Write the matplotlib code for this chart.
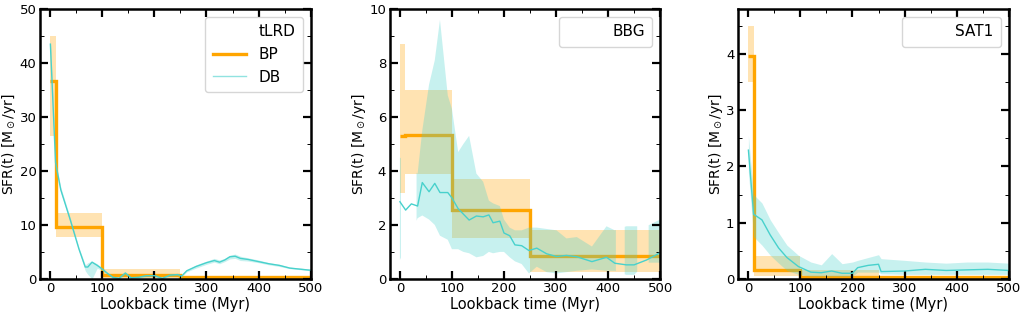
import numpy as np
import matplotlib.pyplot as plt
from matplotlib.lines import Line2D
from matplotlib.ticker import MultipleLocator

# age bins of the BP (bins) model, Myr
edges = [0, 10, 100, 250, 500]

# ---- tLRD
bp1 = [36.6, 9.6, 0.7, 0.3]
bp1_lo = [26.5, 7.7, 0.2, 0.0]
bp1_hi = [45.0, 12.2, 1.9, 0.5]
t1 = [0, 10, 20, 38, 55, 67, 72, 80, 90, 100, 110, 120, 132, 144, 155, 170, 185, 200, 215,
      230, 245, 252, 262, 280, 300, 315, 325, 335, 345, 355, 365, 380, 400, 420, 440, 460, 480, 500]
db1 = [43.5, 21.5, 16.5, 11.0, 5.5, 2.2, 2.2, 3.1, 2.5, 1.8, 1.0, 0.3, 0.1, 1.1, 0.2, 0.3, 0.6, 0.6, 0.1,
       0.7, 0.8, 0.5, 1.5, 2.3, 3.0, 3.4, 3.1, 3.5, 4.1, 4.2, 3.8, 3.6, 3.2, 2.8, 2.5, 2.0, 1.8, 1.6]
db1_lo = [42.5, 21.0, 16.0, 10.6, 5.2, 1.5, 0.8, 0.0, 2.0, 1.5, 0.8, 0.1, 0.0, 0.8, 0.0, 0.1, 0.4, 0.4, 0.0,
          0.5, 0.6, 0.3, 1.3, 2.0, 2.7, 3.1, 2.8, 3.2, 3.7, 3.8, 3.4, 3.3, 3.0, 2.6, 2.3, 1.9, 1.7, 1.5]
db1_hi = [44.5, 22.0, 17.0, 11.4, 5.8, 2.6, 3.0, 3.3, 2.8, 2.0, 1.2, 0.5, 0.3, 1.3, 0.4, 0.5, 0.8, 0.8, 0.3,
          0.9, 1.0, 0.7, 1.7, 2.6, 3.3, 3.8, 3.5, 3.8, 4.4, 4.6, 4.2, 3.9, 3.5, 3.0, 2.7, 2.2, 2.0, 1.8]

# ---- BBG
bp2 = [5.28, 5.32, 2.57, 0.85]
bp2_lo = [3.2, 3.9, 1.5, 0.25]
bp2_hi = [8.7, 7.0, 3.7, 1.8]
t2 = [0, 11, 22, 34, 43, 56, 67, 77, 92, 100, 112, 122, 133, 147, 160, 171, 179, 192, 200, 211, 221,
      234, 248, 263, 282, 301, 320, 340, 369, 397, 413, 435, 450, 474, 500]
db2 = [2.86, 2.55, 2.78, 2.7, 3.57, 3.23, 3.54, 3.2, 3.2, 3.0, 2.6, 2.4, 2.18, 2.33, 2.3, 2.37, 2.08, 2.14,
       1.7, 1.6, 1.26, 1.23, 1.05, 1.14, 0.93, 0.83, 0.87, 0.82, 0.64, 0.8, 0.58, 0.52, 0.52, 0.7, 0.97]
db2_lo = [0.7, np.nan, np.nan, 2.25, 2.35, 2.2, 2.0, 1.6, 1.45, 1.1, 1.1, 1.0, 0.95, 0.8, 0.85, 1.0, 0.95,
          1.0, 1.0, 0.8, 0.65, 0.55, 0.2, 0.45, 0.25, 0.2, 0.25, 0.3, 0.35, 0.3, 0.3, 0.15, 0.15, 0.6, 0.6]
db2_hi = [4.5, np.nan, np.nan, 3.9, 5.5, 7.2, 8.1, 9.6, 6.8, 6.3, 4.7, 5.0, 5.3, 3.9, 3.6, 2.9, 2.8, 2.7,
          2.2, 1.9, 1.8, 1.8, 1.9, 1.9, 1.85, 1.8, 1.5, 1.55, 1.2, 1.95, 1.8, 1.95, 1.95, 1.95, 2.2]
db2_gap = [(2, 32), (415, 432), (456, 478)]

# ---- SAT1
bp3 = [3.97, 0.16, 0.04, 0.03]
bp3_lo = [3.5, 0.05, 0.02, 0.01]
bp3_hi = [4.5, 0.4, 0.15, 0.05]
t3 = [0, 10, 26, 42, 58, 74, 96, 120, 140, 160, 180, 200, 210, 230, 250, 255, 300, 340, 380, 420, 460, 500]
db3 = [2.29, 1.15, 1.05, 0.78, 0.55, 0.38, 0.22, 0.12, 0.11, 0.14, 0.1, 0.1, 0.2, 0.24, 0.26, 0.13,
       0.14, 0.17, 0.15, 0.16, 0.17, 0.15]
db3_lo = [1.9, 0.75, 0.6, 0.42, 0.28, 0.15, 0.08, 0.05, 0.05, 0.05, 0.05, 0.05, 0.12, 0.12, 0.12, 0.09,
          0.08, 0.08, 0.08, 0.08, 0.08, 0.08]
db3_hi = [2.55, 1.5, 1.35, 1.05, 0.82, 0.6, 0.42, 0.3, 0.25, 0.45, 0.27, 0.3, 0.33, 0.38, 0.43, 0.36,
          0.33, 0.3, 0.28, 0.3, 0.3, 0.28]

panels = [
    ("tLRD", bp1, bp1_lo, bp1_hi, t1, db1, db1_lo, db1_hi, [], 50, 10, 5),
    ("BBG", bp2, bp2_lo, bp2_hi, t2, db2, db2_lo, db2_hi, db2_gap, 10, 2, 1),
    ("SAT1", bp3, bp3_lo, bp3_hi, t3, db3, db3_lo, db3_hi, [], 4.8, 1, 0.5),
]

orange = 'orange'
cyan = 'mediumturquoise'

fig = plt.figure(figsize=(10.25, 3.13), dpi=100)
lefts = [0.039, 0.380, 0.720]
for i, (name, bp, bplo, bphi, t, db, dblo, dbhi, gaps, ytop, ymaj, ymin) in enumerate(panels):
    ax = fig.add_axes([lefts[i], 0.109, 0.264, 0.862])
    # BP bins
    for j in range(len(bp)):
        ax.fill_between([edges[j], edges[j + 1]], bplo[j], bphi[j], color=orange, alpha=0.3, lw=0)
    ax.stairs(bp, edges, color=orange, lw=2.4, baseline=None)
    # DB curve + band
    t_arr = np.array(t, dtype=float)
    lo = np.array(dblo, dtype=float)
    hi = np.array(dbhi, dtype=float)
    tf = np.linspace(0, 500, 1001)
    lof = np.interp(tf, t_arr[~np.isnan(lo)], lo[~np.isnan(lo)])
    hif = np.interp(tf, t_arr[~np.isnan(hi)], hi[~np.isnan(hi)])
    mask = np.ones_like(tf, dtype=bool)
    for a, b in gaps:
        mask[(tf > a) & (tf < b)] = False
    ax.fill_between(tf, lof, hif, where=mask, color=cyan, alpha=0.3, lw=0)
    ax.plot(t, db, color=cyan, lw=1.0)

    ax.set_xlim(-20, 500)
    ax.set_ylim(0, ytop)
    ax.xaxis.set_major_locator(MultipleLocator(100))
    ax.xaxis.set_minor_locator(MultipleLocator(50))
    ax.yaxis.set_major_locator(MultipleLocator(ymaj))
    ax.yaxis.set_minor_locator(MultipleLocator(ymin))
    ax.tick_params(which='both', direction='in', top=True, right=True, labelsize=9.5)
    ax.tick_params(which='major', length=5.5, width=1.6, pad=2.5)
    ax.tick_params(which='minor', length=3, width=0.7)
    for s in ax.spines.values():
        s.set_linewidth(1.8)
    ax.set_xlabel("Lookback time (Myr)", fontsize=10.5, labelpad=1)
    ax.set_ylabel(r"SFR(t) [M$_\odot$/yr]", fontsize=10, labelpad=1)

    if i == 0:
        handles = [Line2D([], [], color='none'),
                   Line2D([], [], color=orange, lw=2.4),
                   Line2D([], [], color=cyan, lw=1.0, alpha=0.6)]
        labels = [name, "BP", "DB"]
    else:
        handles = [Line2D([], [], color='none')]
        labels = [name]
    ax.legend(handles, labels, loc='upper right', fontsize=11, handlelength=2.2,
              borderpad=0.5)

fig.savefig('out.png', dpi=100)
